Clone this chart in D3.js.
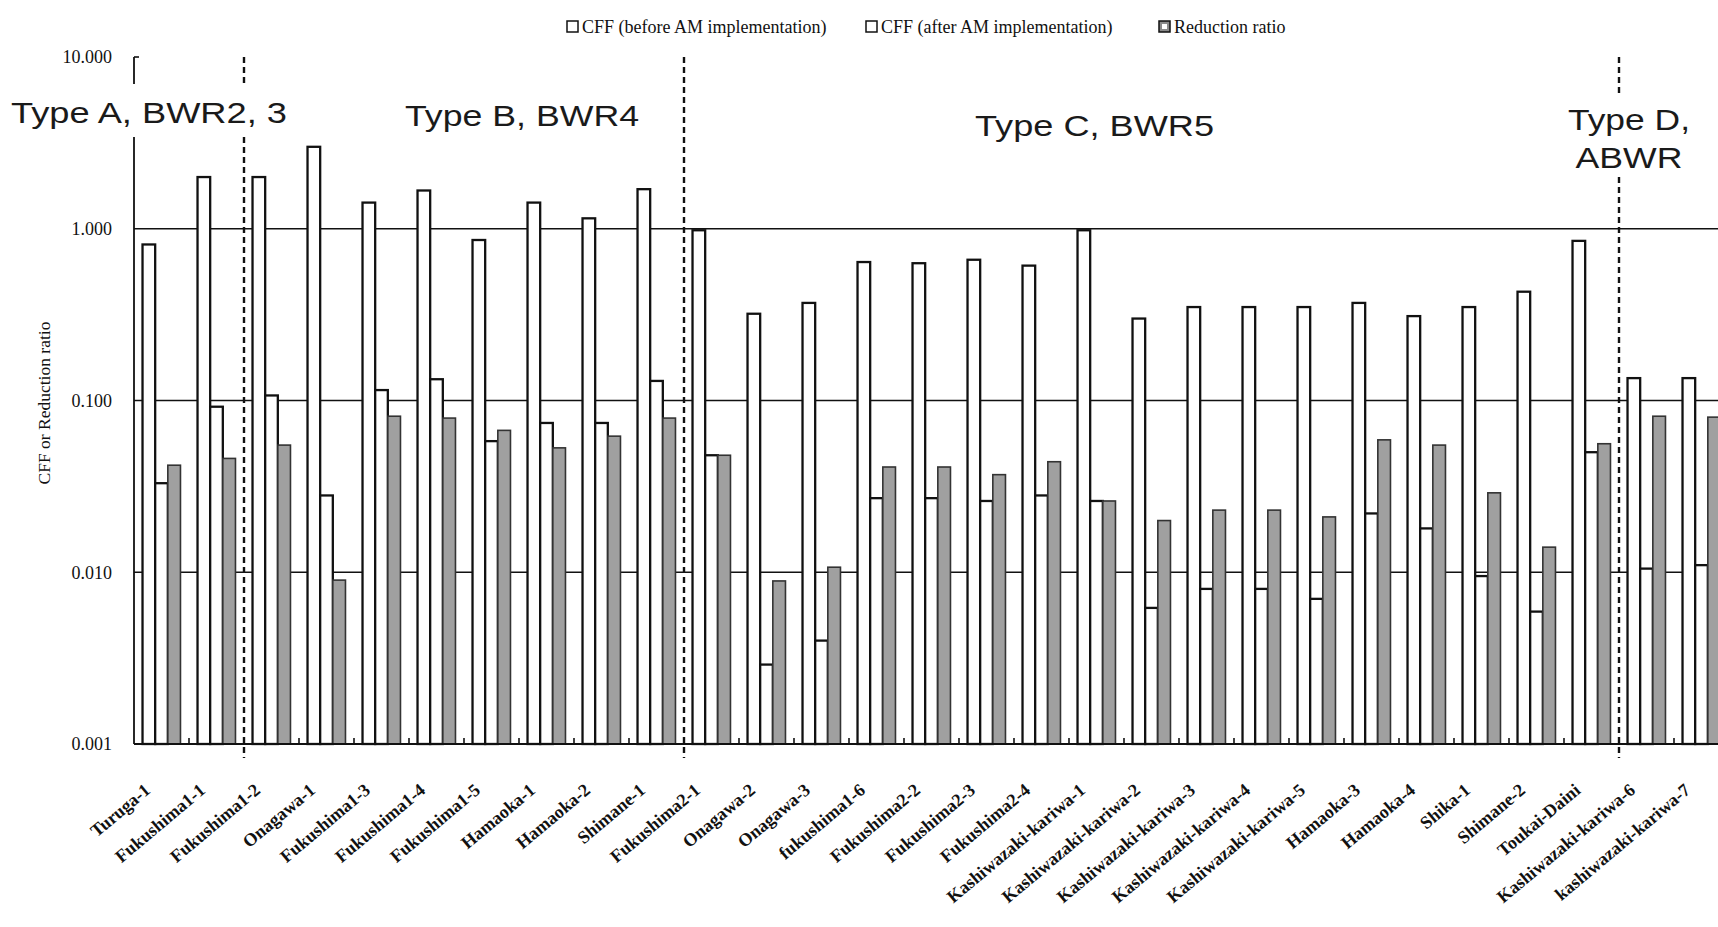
<!DOCTYPE html>
<html>
<head>
<meta charset="utf-8">
<script src="https://cdn.jsdelivr.net/npm/d3@7/dist/d3.min.js"></script>
<style>
  html, body { margin: 0; padding: 0; background: #fff; }
  svg { display: block; }
</style>
</head>
<body>
<svg id="chart" width="1718" height="927"></svg>
<script>
// ---------------- DATA ----------------
const categories = [
  "Turuga-1", "Fukushima1-1", "Fukushima1-2", "Onagawa-1", "Fukushima1-3",
  "Fukushima1-4", "Fukushima1-5", "Hamaoka-1", "Hamaoka-2", "Shimane-1",
  "Fukushima2-1", "Onagawa-2", "Onagawa-3", "fukushima1-6", "Fukushima2-2",
  "Fukushima2-3", "Fukushima2-4", "Kashiwazaki-kariwa-1", "Kashiwazaki-kariwa-2",
  "Kashiwazaki-kariwa-3", "Kashiwazaki-kariwa-4", "Kashiwazaki-kariwa-5",
  "Hamaoka-3", "Hamaoka-4", "Shika-1", "Shimane-2", "Toukai-Daini",
  "Kashiwazaki-kariwa-6", "kashiwazaki-kariwa-7"
];
const cffBefore = [
  0.81, 2.0, 2.0, 3.0, 1.42, 1.67, 0.86, 1.42, 1.15, 1.7,
  0.98, 0.32, 0.37, 0.64, 0.63, 0.66, 0.61, 0.98, 0.30,
  0.35, 0.35, 0.35, 0.37, 0.31, 0.35, 0.43, 0.85, 0.135, 0.135
];
const cffAfter = [
  0.033, 0.092, 0.107, 0.028, 0.115, 0.133, 0.058, 0.074, 0.074, 0.13,
  0.048, 0.0029, 0.004, 0.027, 0.027, 0.026, 0.028, 0.026, 0.0062,
  0.008, 0.008, 0.007, 0.022, 0.018, 0.0095, 0.0059, 0.05, 0.0105, 0.011
];
const reductionRatio = [
  0.042, 0.046, 0.055, 0.009, 0.081, 0.079, 0.067, 0.053, 0.062, 0.079,
  0.048, 0.0089, 0.0107, 0.041, 0.041, 0.037, 0.044, 0.026, 0.020,
  0.023, 0.023, 0.021, 0.059, 0.055, 0.029, 0.014, 0.056, 0.081, 0.08
];
const seriesNames = ["CFF (before AM implementation)", "CFF (after AM implementation)", "Reduction ratio"];
const yTickValues = [10, 1, 0.1, 0.01, 0.001];
const yTickLabels = ["10.000", "1.000", "0.100", "0.010", "0.001"];
const yAxisTitle = "CFF or Reduction ratio";
const groupStarts = ["Fukushima1-2", "Fukushima2-1", "Kashiwazaki-kariwa-6"];
const typeLabels = [["Type A, BWR2, 3"], ["Type B, BWR4"], ["Type C, BWR5"], ["Type D,", "ABWR"]];

// ---------------- LAYOUT ----------------
const svg = d3.select("#chart");
const plotLeft = 134, plotBottom = 744, plotTop = 57;
const step = 55;
const x = d3.scaleBand().domain(categories)
  .range([plotLeft, plotLeft + step * categories.length])
  .paddingInner(0.31).paddingOuter(0.155);
const xSub = d3.scaleBand().domain([0, 1, 2]).range([0, x.bandwidth()]);
const y = d3.scaleLog().domain([0.001, 10]).range([plotBottom, plotTop]);
const gapHalf = x.step() * x.paddingInner() / 2;

const serif = "'Liberation Serif', 'Times New Roman', serif";
const sans = "'Liberation Sans', Arial, sans-serif";

// gridlines (behind bars)
svg.append("g").selectAll("line").data(yTickValues.filter(v => v < 10 && v > 0.001)).join("line")
  .attr("x1", plotLeft).attr("x2", 1718)
  .attr("y1", d => y(d)).attr("y2", d => y(d))
  .attr("stroke", "#111").attr("stroke-width", 1.6);

// bars
const series = [cffBefore, cffAfter, reductionRatio];
const fills = ["#ffffff", "#ffffff", "#a0a0a0"];
const gBars = svg.append("g");
series.forEach((vals, si) => {
  gBars.selectAll(null).data(vals).join("rect")
    .attr("x", (d, i) => x(categories[i]) + xSub(si))
    .attr("y", d => y(d))
    .attr("width", xSub.bandwidth())
    .attr("height", d => y(0.001) - y(d))
    .attr("fill", fills[si])
    .attr("stroke", si === 2 ? "#333" : "#111")
    .attr("stroke-width", si === 2 ? 1.6 : 2.3);
});

// bottom axis line and small ticks at group boundaries
svg.append("line").attr("x1", plotLeft).attr("x2", 1718).attr("y1", plotBottom).attr("y2", plotBottom)
  .attr("stroke", "#111").attr("stroke-width", 2.2);
svg.append("g").selectAll("line").data(categories.slice(1)).join("line")
  .attr("x1", d => x(d) - gapHalf).attr("x2", d => x(d) - gapHalf)
  .attr("y1", plotBottom).attr("y2", plotBottom - 6)
  .attr("stroke", "#111").attr("stroke-width", 1.6);

// left axis
svg.append("line").attr("x1", plotLeft).attr("x2", plotLeft).attr("y1", plotTop).attr("y2", plotBottom)
  .attr("stroke", "#111").attr("stroke-width", 1.8);
svg.append("line").attr("x1", plotLeft).attr("x2", plotLeft + 5).attr("y1", plotTop).attr("y2", plotTop)
  .attr("stroke", "#111").attr("stroke-width", 1.6);

// dashed separators
svg.append("g").selectAll("line").data(groupStarts).join("line")
  .attr("x1", d => x(d) - gapHalf).attr("x2", d => x(d) - gapHalf)
  .attr("y1", plotTop).attr("y2", plotBottom + 14)
  .attr("stroke", "#111").attr("stroke-width", 2.4).attr("stroke-dasharray", "6,4");

// y tick labels
svg.append("g").selectAll("text").data(yTickValues).join("text")
  .attr("x", 112).attr("y", d => y(d)).attr("dy", "0.35em")
  .attr("text-anchor", "end")
  .style("font-family", serif).style("font-size", "18px").attr("fill", "#111")
  .text((d, i) => yTickLabels[i]);

// y axis title
svg.append("text")
  .attr("transform", "translate(44,403) rotate(-90)")
  .attr("text-anchor", "middle").attr("dy", "0.35em")
  .style("font-family", serif).style("font-size", "17.5px").attr("fill", "#111")
  .text(yAxisTitle);

// category labels
svg.append("g").selectAll("text").data(categories).join("text")
  .attr("transform", d => `translate(${x(d) + x.bandwidth() / 2 - 10},792) rotate(-40)`)
  .attr("text-anchor", "end")
  .style("font-family", serif).style("font-size", "18px").style("font-weight", "bold")
  .attr("fill", "#111")
  .text(d => d);

// type labels with white boxes
const typeLayout = [
  { x: 11, base: [123], box: [0, 84, 292, 53] },
  { x: 405, base: [126], box: [398, 96, 246, 38] },
  { x: 975, base: [136], box: [968, 106, 252, 38] },
  { x: 1568, base: [130, 168], box: [1560, 93, 140, 83], centered: true }
];
const lineWidths = [[276], [234], [239], [122, 107]];
typeLabels.forEach((lines, i) => {
  const L = typeLayout[i];
  svg.append("rect").attr("x", L.box[0]).attr("y", L.box[1]).attr("width", L.box[2]).attr("height", L.box[3])
    .attr("fill", "#fff");
  lines.forEach((t, j) => {
    const w = lineWidths[i][j];
    const cx = L.centered ? 1629 - w / 2 : L.x;
    svg.append("text")
      .attr("x", cx).attr("y", L.base[j])
      .attr("textLength", w).attr("lengthAdjust", "spacingAndGlyphs")
      .style("font-family", sans).style("font-size", "29px").attr("fill", "#1a1a1a")
      .text(t);
  });
});

// legend
const legendX = [567, 866, 1159];
const legendFills = ["#fff", "#fff", "#8a8a8a"];
seriesNames.forEach((name, i) => {
  const g = svg.append("g").attr("transform", `translate(${legendX[i]},0)`);
  g.append("rect").attr("x", 0).attr("y", 21).attr("width", 11).attr("height", 11)
    .attr("fill", legendFills[i]).attr("stroke", "#111").attr("stroke-width", 1.5);
  if (i === 2) {
    g.append("rect").attr("x", 3).attr("y", 24).attr("width", 5).attr("height", 5)
      .attr("fill", "#fff").attr("stroke", "none");
  }
  g.append("text").attr("x", 15).attr("y", 33)
    .style("font-family", serif).style("font-size", "18px").attr("fill", "#111")
    .text(name);
});
</script>
</body>
</html>
